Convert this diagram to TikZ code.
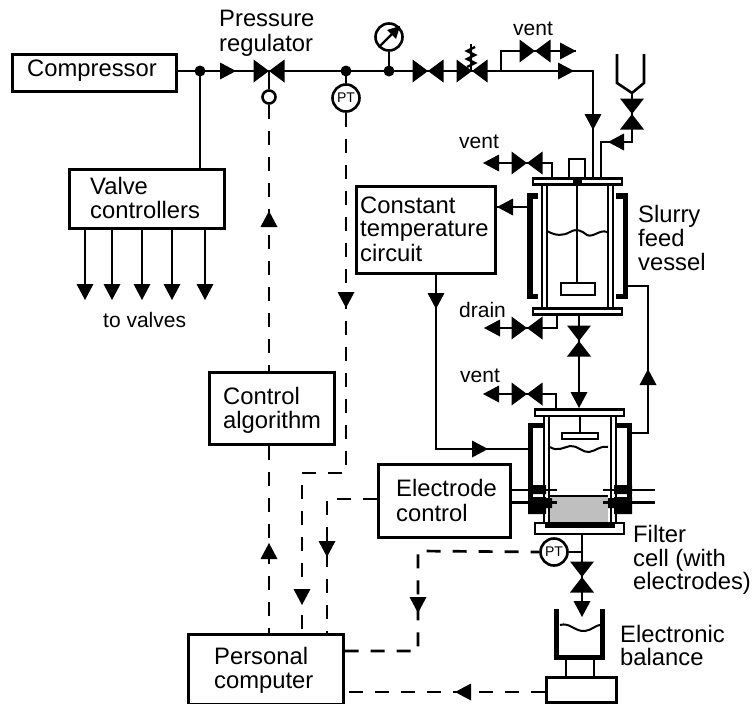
\documentclass[tikz,border=0pt]{standalone}
\usepackage{fontspec}
\setmainfont{Liberation Sans}
\usetikzlibrary{calc}
\tikzset{
  x=1pt,y=-1pt,
  line/.style={line width=2.6pt,line join=miter},
  thin line/.style={line width=2pt},
  thick wall/.style={line width=5.5pt},
  dash line/.style={line width=2.7pt,dash pattern=on 14pt off 12pt},
  boxnode/.style={draw,line width=2.6pt,anchor=north west,inner sep=0pt},
  label text/.style={font=\fontsize{23.8}{24}\selectfont,inner sep=0pt,anchor=base west},
  small text/.style={font=\fontsize{21}{22}\selectfont,inner sep=0pt,anchor=base west},
  gauge/.style={circle,draw,fill=white,line width=2.6pt,minimum size=27pt,inner sep=0pt,font=\fontsize{14}{14}\selectfont},
  valveh/.pic={\fill (-15.5,-11.5)--(0,0)--(-15.5,11.5)--cycle (15.5,-11.5)--(0,0)--(15.5,11.5)--cycle;},
  valvev/.pic={\fill (-12,-15.5)--(0,0)--(12,-15.5)--cycle (-12,15.5)--(0,0)--(12,15.5)--cycle;},
  tipr/.pic={\fill (-16,-8.5)--(0,0)--(-16,8.5)--cycle;},
  tipl/.pic={\fill (16,-8.5)--(0,0)--(16,8.5)--cycle;},
  tipd/.pic={\fill (-8.5,-16)--(0,0)--(8.5,-16)--cycle;},
  tipu/.pic={\fill (-8.5,16)--(0,0)--(8.5,16)--cycle;},
  dot/.pic={\fill (0,0) circle (5.5);},
}
\begin{document}
\begin{tikzpicture}
\useasboundingbox (0,0) rectangle (755,704);
% ---------- boxes
\node[boxnode,minimum width=164pt,minimum height=37pt] (comp) at (11,53) {};
\node[label text] at (27,76) {Compressor};
\node[boxnode,minimum width=155pt,minimum height=59pt] (vc) at (68,168) {};
\node[label text] at (90,194) {Valve};
\node[label text] at (90,218) {controllers};
\node[boxnode,minimum width=125pt,minimum height=72pt] (ca) at (208,371) {};
\node[label text] at (223,404) {Control};
\node[label text] at (223,428) {algorithm};
\node[boxnode,minimum width=139pt,minimum height=87pt] (ctc) at (355,185) {};
\node[label text] at (360,213) {Constant};
\node[label text] at (360,236) {temperature};
\node[label text] at (360,261) {circuit};
\node[boxnode,minimum width=132pt,minimum height=73pt] (ec) at (377,463) {};
\node[label text] at (396,496) {Electrode};
\node[label text] at (396,521) {control};
\node[boxnode,minimum width=155pt,minimum height=70pt] (pc) at (187,633) {};
\node[label text] at (214,664) {Personal};
\node[label text] at (214,688) {computer};
\node[boxnode,minimum width=70pt,minimum height=25pt] (bal) at (545,676) {};
% ---------- free labels
\node[label text] at (219,26) {Pressure};
\node[label text] at (219,51) {regulator};
\node[small text] at (513,35) {vent};
\node[small text] at (459,148) {vent};
\node[small text] at (459,317) {drain};
\node[small text] at (460,382) {vent};
\node[small text] at (103,327) {to valves};
\node[label text] at (638,222) {Slurry};
\node[label text] at (638,246) {feed};
\node[label text] at (638,270) {vessel};
\node[label text] at (633,542) {Filter};
\node[label text] at (633,566) {cell (with};
\node[label text] at (633,589) {electrodes)};
\node[label text] at (620,642) {Electronic};
\node[label text] at (620,665) {balance};
% ---------- coordinates
\coordinate (j1) at (200,71);
\coordinate (vreg) at (269,71);
\coordinate (j2) at (346,71);
\coordinate (j3) at (389,71);
\coordinate (v2) at (428,71);
\coordinate (v3) at (472,71);
\coordinate (b1) at (501,71);
\coordinate (c1) at (593,71);
\coordinate (vtop) at (535,51);
\coordinate (b2) at (501,51);
\coordinate (ventend) at (576,51);
\coordinate (inlet) at (593,178);
\coordinate (vfun) at (632,114);
\coordinate (ventS) at (527,163);
\coordinate (drainv) at (527,328);
\coordinate (ventF) at (527,394);
\coordinate (vmid) at (579,341);
\coordinate (voutv) at (582,577);
% ---------- process lines
\draw[line] (comp.east |- j1) -- (vreg) -- (j2) -- (j3) -- (v2) -- (v3) -- (b1) -- (c1) -- (inlet);
\draw[line] (j1) -- (j1 |- vc.north);
\draw[line] (b1) -- (b2) -- (ventend);
\foreach \x in {85,112,142,172,205}{
  \draw[line] (\x,227) -- (\x,290);
  \pic at (\x,300) {tipd};
}
\pic at (j1) {dot}; \pic at (j2) {dot}; \pic at (j3) {dot};
\pic at (vreg) {valveh}; \pic at (v2) {valveh}; \pic at (v3) {valveh}; \pic at (vtop) {valveh};
\pic at (236,71) {tipr}; \pic at (574,71) {tipr}; \pic at (576,51) {tipr};
\pic at (593,130) {tipd};
% regulator actuator
\node[circle,draw,fill=white,line width=2.6pt,minimum size=13pt,inner sep=0pt] (act) at (269,97) {};
\draw[line] (vreg) -- (act);
% PT top
\node[gauge] (pt1) at (346,98) {PT};
\draw[line] (j2) -- (pt1);
% pressure gauge
\node[gauge] (pg) at (389,37) {};
\draw[line] (j3) -- (pg);
\draw[line width=2.4pt] (379,47) -- (394,32);
\fill (400,26) -- (387,30) -- (396,39) -- cycle;
% relief spring
\draw[line width=1.6pt] (471,71) -- (471,44);
\draw[line width=2.4pt] (467,67) -- (475,63) -- (467,59) -- (475,55) -- (467,51) -- (475,47);
% funnel
\draw[line] (617,54) -- (617,83) -- (632,93) -- (644,83) -- (644,54);
\draw[line] (632,93) -- (vfun);
\draw[line] (vfun) -- (632,142) -- (601,142) -- (601,178);
\pic at (vfun) {valvev};
\pic at (608,142) {tipl};
% vent slurry vessel
\draw[line] (485,163) -- (ventS) -- (552,163) -- (552,178);
\pic at (ventS) {valveh}; \pic at (483,163) {tipl};
% drain
\draw[line] (486,328) -- (drainv) -- (557,328) -- (557,315);
\pic at (drainv) {valveh}; \pic at (484,328) {tipl};
% vent filter
\draw[line] (485,394) -- (ventF) -- (556,394) -- (556,409);
\pic at (ventF) {valveh}; \pic at (483,394) {tipl};
% between vessels
\draw[line] (579,315) -- (vmid) -- (579,405);
\pic at (vmid) {valvev}; \pic at (579,408) {tipd};
% temperature circuit loop
\draw[line] (528,207) -- (ctc.east |- 0,207);
\pic at (497,207) {tipl};
\draw[line] (436,272) -- (436,449) -- (528,449);
\pic at (436,309) {tipd}; \pic at (488,449) {tipr};
\draw[line] (632,433) -- (648,433) -- (648,286) -- (628,286);
\pic at (648,369) {tipu};
% ---------- slurry vessel
\draw[thick wall] (538,196) -- (530,196) -- (530,296.5) -- (538,296.5);
\draw[thick wall] (616,196) -- (625.5,196) -- (625.5,296.5) -- (616,296.5);
\draw[thin line] (541.5,185) -- (541.5,308) (546.5,185) -- (546.5,308) (607.5,185) -- (607.5,308) (612.5,185) -- (612.5,308);
\draw[line,fill=white] (569,178) -- (569,159) -- (585,159) -- (585,178);
\draw[line,fill=white] (533,178.5) rectangle (622,184.5);
\fill (573,177) rectangle (582,186);
\draw[line,fill=white] (533,308.5) rectangle (622,314.5);
\draw[thin line] (577,182) -- (577,283);
\draw[line,fill=white] (561,283) rectangle (595,295);
\draw[line width=2pt] (547,231) .. controls (556,236) and (563,236) .. (570,232) .. controls (577,228) and (582,231) .. (587,235) .. controls (593,238) and (600,229) .. (607,232);
% ---------- filter cell
\fill[gray!50] (550,496) rectangle (608,522);
\draw[thick wall] (544,425.5) -- (530.5,425.5) -- (530.5,514);
\draw[thick wall] (616,425.5) -- (629.5,425.5) -- (629.5,514);
\draw[thin line] (544,416) -- (544,523) (549,416) -- (549,523) (611,416) -- (611,523) (616,416) -- (616,523);
\draw[thin line] (550,496) -- (608,496);
\fill (528,485) rectangle (546,494) (528,497) rectangle (546,514) (546,498) rectangle (552,508);
\fill (614,485) rectangle (632,494) (614,497) rectangle (632,514) (608,498) rectangle (614,508);
\draw[thin line] (ec.east |- 0,490) -- (557,490);
\draw[line] (ec.east |- 0,502.5) -- (557,502.5);
\draw[thin line] (603,490) -- (655,490);
\draw[line] (603,502.5) -- (655,502.5);
\draw[line,fill=white] (535,409.5) rectangle (624,416);
\draw[line,fill=white] (535,523) rectangle (624,534);
\fill (545,523) rectangle (615,528);
\draw[line] (580,416) -- (580,433);
\draw[line,fill=white] (562,433) rectangle (598,439);
\draw[line width=2pt] (550,447) .. controls (557,452) and (565,447) .. (570,446) .. controls (577,445) and (583,453) .. (589,452) .. controls (596,451) and (601,445) .. (608,447);
% outlet
\node[gauge] (pt2) at (554,552) {PT};
\draw[line] (pt2) -- (582,552);
\draw[line] (582,534) -- (voutv) -- (582,612);
\pic at (voutv) {valvev}; \pic at (582,617) {tipd};
% beaker
\draw[line width=5pt] (556.5,609) -- (556.5,657) -- (602,657) -- (602,609);
\draw[line width=2pt] (560,625) .. controls (570,622) and (575,632) .. (585,631) .. controls (592,630) and (596,625) .. (600,625);
\draw[line] (566,657) -- (566,676) (594,657) -- (594,676);
% ---------- signal lines
\draw[dash line] (act) -- (ca.north -| act);
\pic at (269,211) {tipu};
\draw[dash line] (ca.south -| act) -- (pc.north -| act);
\pic at (269,543) {tipu};
\draw[dash line] (pt1) -- (346,473) -- (302,473) -- (302,633);
\pic at (346,308) {tipd}; \pic at (302,605) {tipd};
\draw[dash line] (ec.west |- 0,499) -- (327,499) -- (327,633);
\pic at (327,557) {tipd};
\draw[dash line] (pc.east |- 0,651) -- (418,651) -- (418,551) -- (pt2.west);
\pic at (418,613) {tipd};
\draw[dash line] (bal.west |- 0,692) -- (pc.east |- 0,692);
\pic at (455,692) {tipl};
\end{tikzpicture}
\end{document}
